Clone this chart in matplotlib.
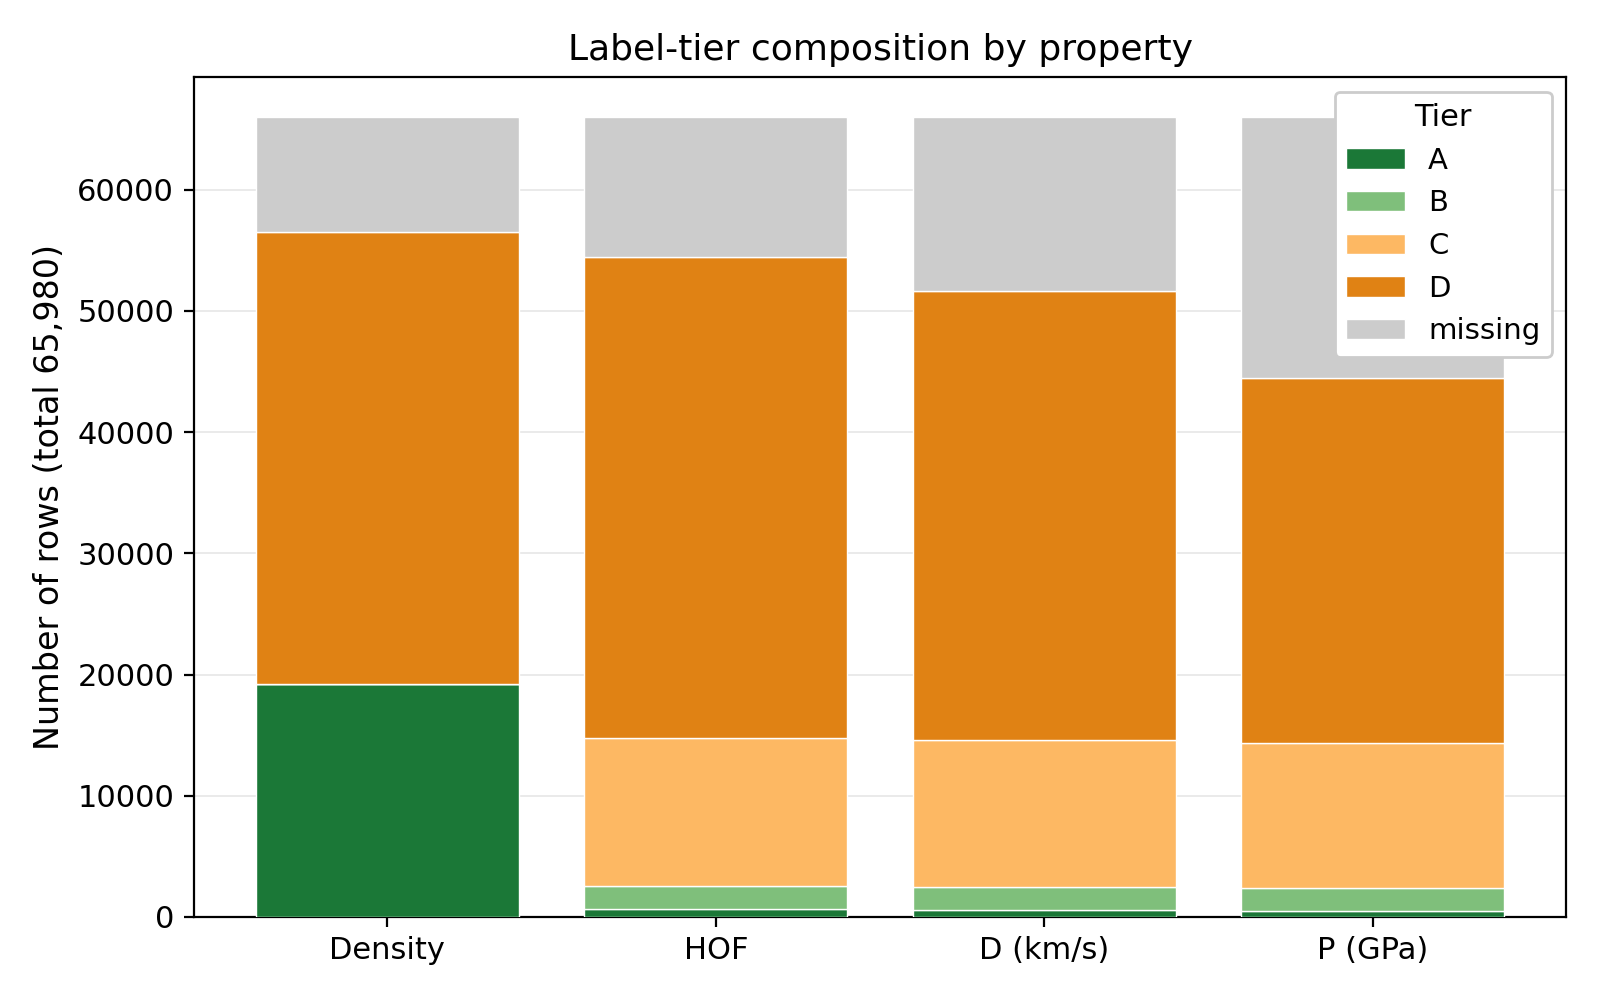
import matplotlib

matplotlib.use("Agg")
import matplotlib.pyplot as plt
import numpy as np

properties = ["Density", "HOF", "D (km/s)", "P (GPa)"]
tiers = ["A", "B", "C", "D", "missing"]
total_rows = 65980

tier_a = [19200, 640, 610, 480]
tier_b = [0, 1950, 1900, 1880]
tier_c = [0, 12140, 12050, 12030]
tier_d = [37300, 39720, 37030, 30040]
tier_missing = [total_rows - sum(v) for v in zip(tier_a, tier_b, tier_c, tier_d)]

tier_colors = ["#1b7837", "#7fbf7b", "#fdb863", "#e08214", "#cccccc"]

fig = plt.figure(figsize=(8, 5), dpi=200)
ax = fig.add_axes([0.121, 0.083, 0.858, 0.84])

x = np.arange(len(properties))
bottom = np.zeros(len(properties))
for name, vals, col in zip(tiers, [tier_a, tier_b, tier_c, tier_d, tier_missing], tier_colors):
    ax.bar(x, vals, 0.8, bottom=bottom, color=col, edgecolor="white",
           linewidth=0.5, label=name, zorder=3)
    bottom += np.array(vals)

ax.set_xticks(x)
ax.set_xticklabels(properties, fontsize=11)
ax.tick_params(axis="y", labelsize=11)
ax.set_ylabel("Number of rows (total 65,980)", fontsize=12)
ax.set_title("Label-tier composition by property", fontsize=13)
ax.grid(axis="y", color="#e6e6e6", linewidth=0.6, zorder=0)
ax.set_axisbelow(True)
ax.legend(title="Tier", loc="upper right", fontsize=10.5, title_fontsize=11,
          framealpha=1)

fig.savefig("out.png", dpi=200)
